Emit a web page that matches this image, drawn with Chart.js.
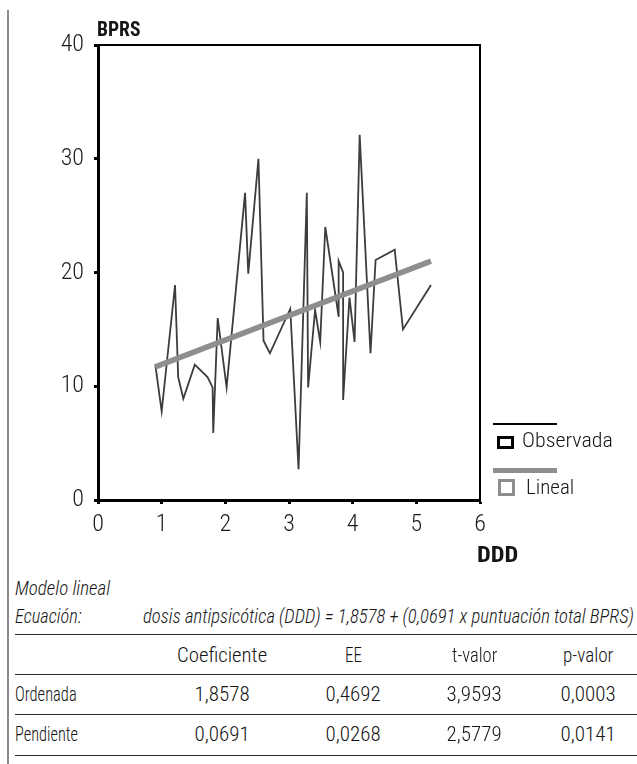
<!DOCTYPE html>
<html>
<head>
<meta charset="utf-8">
<script src="https://cdn.jsdelivr.net/npm/chart.js@4.4.0/dist/chart.umd.min.js"></script>
<style>
  body { margin: 0; background: #fff; width: 637px; height: 764px; position: relative; overflow: hidden; color: #151515; }
  #chartBox { position: absolute; left: 0; top: 0; width: 637px; height: 570px; }
  .txt { position: absolute; white-space: nowrap; line-height: 1; transform-origin: 0 0; }
  .rule { position: absolute; left: 15px; width: 622px; height: 0; border-top: 1.5px solid #2a2a2a; }
  #pageLine { position: absolute; left: 7px; top: 10px; width: 2px; height: 760px; background: #8a8a8a; }
</style>
</head>
<body>
<div id="pageLine"></div>
<div id="chartBox"><canvas id="chart" width="637" height="570"></canvas></div>

<script>
  const FONT = "'Roboto Condensed', 'DejaVu Sans Condensed', sans-serif";

  const ddd = [0.90, 1.00, 1.21, 1.26, 1.34, 1.52, 1.72, 1.80, 1.81, 1.88, 2.02, 2.31, 2.36, 2.52, 2.60, 2.70,
               3.02, 3.15, 3.28, 3.30, 3.41, 3.49, 3.57, 3.78, 3.78, 3.85, 3.85, 3.95, 4.03, 4.11, 4.28, 4.36,
               4.66, 4.79, 5.23];
  const bprs = [11.9, 7.8, 18.9, 10.8, 8.9, 11.9, 10.8, 9.9, 5.9, 16.0, 9.9, 27.0, 19.9, 30.0, 14.0, 12.9,
                16.8, 2.7, 27.0, 9.9, 16.7, 13.9, 24.0, 16.1, 21.0, 20.0, 8.8, 17.8, 13.9, 32.1, 12.9, 21.1,
                22.0, 15.0, 18.9];

  // Fitted line ends
  const linealDdd = [0.90, 5.23];
  const linealBprs = [11.7, 21.0];

  const xTicks = [0, 1, 2, 3, 4, 5, 6];
  const yTicks = [0, 10, 20, 30, 40];

  const seriesNames = ['Observada', 'Lineal'];

  // Table under the chart
  const tableHeaders = ['Coeficiente', 'EE', 't-valor', 'p-valor'];
  const rowNames = ['Ordenada', 'Pendiente'];
  const coeficiente = ['1,8578', '0,0691'];
  const ee = ['0,4692', '0,0268'];
  const tValor = ['3,9593', '2,5779'];
  const pValor = ['0,0003', '0,0141'];

  function addText(str, x, y, opts) {
    const el = document.createElement('div');
    el.className = 'txt';
    el.textContent = str;
    el.style.fontFamily = FONT;
    el.style.fontSize = opts.size + 'px';
    el.style.fontWeight = opts.bold ? '700' : '300';
    if (opts.italic) el.style.fontStyle = 'italic';
    document.body.appendChild(el);
    const natural = el.offsetWidth;
    const w = opts.width || natural;
    const s = w / natural;
    const left = opts.align === 'center' ? x - w / 2 : x;
    el.style.left = left + 'px';
    el.style.top = (y - opts.size / 2) + 'px';
    el.style.transform = 'scaleX(' + s + ')';
    return el;
  }

  const frame = {
    id: 'frame',
    afterDraw(chart) {
      const { ctx, chartArea: a } = chart;
      ctx.save();
      ctx.strokeStyle = '#000';
      ctx.lineWidth = 2;
      ctx.beginPath();
      ctx.moveTo(a.left, a.top);
      ctx.lineTo(a.right, a.top);
      ctx.lineTo(a.right, a.bottom);
      ctx.stroke();
      ctx.restore();
    }
  };

  const tickFont = { family: FONT, size: 24, weight: '300' };

  new Chart(document.getElementById('chart'), {
    type: 'scatter',
    data: {
      datasets: [
        {
          label: seriesNames[0],
          data: ddd.map((x, i) => ({ x, y: bprs[i] })),
          showLine: true,
          borderColor: '#3c3c3c',
          borderWidth: 1.8,
          pointRadius: 0,
          order: 1
        },
        {
          label: seriesNames[1],
          data: linealDdd.map((x, i) => ({ x, y: linealBprs[i] })),
          showLine: true,
          borderColor: '#8e8e8e',
          borderWidth: 5.5,
          pointRadius: 0,
          order: 0
        }
      ]
    },
    options: {
      responsive: false,
      animation: false,
      layout: { padding: { left: 0, top: 45, right: 157, bottom: 0 } },
      plugins: { legend: { display: false }, tooltip: { enabled: false } },
      scales: {
        x: {
          type: 'linear', min: 0, max: 6,
          afterBuildTicks: s => { s.ticks = xTicks.map(v => ({ value: v })); },
          ticks: { font: tickFont, color: '#1a1a1a', padding: 7 },
          grid: { drawOnChartArea: false, tickLength: 4, tickWidth: 3, tickColor: '#000' },
          border: { color: '#000', width: 3 },
          afterFit: s => { s.height = 70; }
        },
        y: {
          min: 0, max: 40,
          afterBuildTicks: s => { s.ticks = yTicks.map(v => ({ value: v })); },
          ticks: { font: tickFont, color: '#1a1a1a', padding: 10 },
          grid: { drawOnChartArea: false, tickLength: 4, tickWidth: 3, tickColor: '#000' },
          border: { color: '#000', width: 3 },
          afterFit: s => { s.width = 98; }
        }
      }
    },
    plugins: [frame]
  });

  // Axis titles
  addText('BPRS', 97, 29, { size: 20, bold: true, width: 43 });
  addText('DDD', 477, 555, { size: 22, bold: true, width: 41 });

  // Legend
  const lg = document.createElement('div');
  lg.innerHTML =
    '<div style="position:absolute;left:493px;top:423px;width:64px;height:1.5px;background:#000"></div>' +
    '<div style="position:absolute;left:497px;top:436px;width:11px;height:7px;border:3px solid #000"></div>' +
    '<div style="position:absolute;left:493px;top:468px;width:64px;height:5px;background:#8e8e8e"></div>' +
    '<div style="position:absolute;left:498px;top:479px;width:11px;height:11px;border:3px solid #8e8e8e"></div>';
  document.body.appendChild(lg);
  addText(seriesNames[0], 522, 440, { size: 21, width: 91 });
  addText(seriesNames[1], 526, 487, { size: 21, width: 48 });

  // Model text
  addText('Modelo lineal', 15, 588, { size: 20, italic: true, width: 95 });
  addText('Ecuación:', 15, 616, { size: 20, italic: true, width: 67 });
  addText('dosis antipsicótica (DDD) = 1,8578 + (0,0691 x puntuación total BPRS)', 143, 616,
    { size: 20, italic: true, width: 491 });

  // Table
  [634, 674, 714, 755].forEach(y => {
    const r = document.createElement('div');
    r.className = 'rule';
    r.style.top = y + 'px';
    document.body.appendChild(r);
  });
  const colX = [222, 353, 474, 588];
  const headerW = [90, 17, 45, 50];
  tableHeaders.forEach((h, i) => addText(h, colX[i], 655, { size: 21, align: 'center', width: headerW[i] }));
  const cols = [coeficiente, ee, tValor, pValor];
  rowNames.forEach((name, r) => {
    const y = 694 + r * 40;
    addText(name, 15, y, { size: 21, width: r === 0 ? 62 : 63 });
    cols.forEach((col, i) => addText(col[r], colX[i], y, { size: 21, align: 'center', width: 55 }));
  });
</script>
</body>
</html>
